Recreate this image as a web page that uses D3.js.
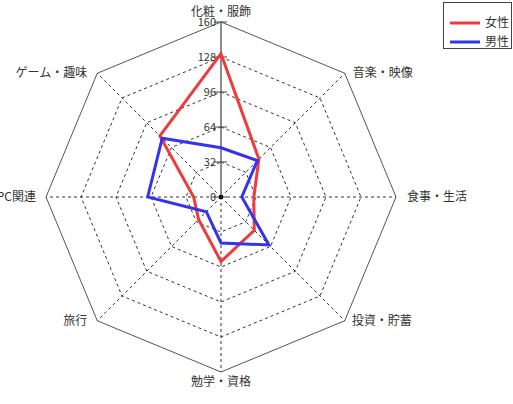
<html>
<head>
<meta charset="utf-8">
<script src="https://d3js.org/d3.v7.min.js"></script>
<style>
  body { margin: 0; background: #fff; }
  text { font-family: "Noto Sans CJK JP", sans-serif; fill: #333; }
</style>
</head>
<body>
<svg id="chart" width="513" height="404"></svg>
<script>
// data
const axes = ['化粧・服飾', '音楽・映像', '食事・生活', '投資・貯蓄', '勉学・資格', '旅行', 'PC関連', 'ゲーム・趣味'];
const female = [131, 49, 30, 43, 59, 29, 25, 79];
const male = [45, 47, 19, 62, 42, 19, 67, 76];
const ticks = [0, 32, 64, 96, 128, 160];
const seriesNames = ['女性', '男性'];
const colors = ['#ee3b3b', '#3434ee'];

const svg = d3.select('svg#chart');
const cx = 221, cy = 197, R = 175;

const r = d3.scaleLinear().domain([0, 160]).range([0, R]);
const angle = d3.scaleLinear().domain([0, axes.length]).range([0, 2 * Math.PI]);
const pt = (i, v) => [cx + r(v) * Math.sin(angle(i)), cy - r(v) * Math.cos(angle(i))];

const g = svg.append('g');

// grid rings
ticks.slice(1).forEach(t => {
  g.append('polygon')
    .attr('points', axes.map((a, i) => pt(i, t).join(',')).join(' '))
    .attr('fill', 'none')
    .attr('stroke', t === 160 ? '#555' : '#333')
    .attr('stroke-width', 1)
    .attr('stroke-dasharray', t === 160 ? null : '3,3');
});

// spokes
axes.forEach((a, i) => {
  const [x, y] = pt(i, 160);
  g.append('line')
    .attr('x1', cx).attr('y1', cy).attr('x2', x).attr('y2', y)
    .attr('stroke', i === 0 ? '#666' : '#333')
    .attr('stroke-width', i === 0 ? 1.5 : 1)
    .attr('stroke-dasharray', i === 0 ? null : '3,3');
});

// tick marks + labels on top axis
ticks.forEach(t => {
  const y = cy - r(t);
  g.append('line').attr('x1', cx - 7).attr('x2', cx + 6).attr('y1', y).attr('y2', y)
    .attr('stroke', '#444').attr('stroke-width', 1);
  g.append('text').attr('x', cx - 5).attr('y', y).attr('dy', '0.35em')
    .attr('text-anchor', 'end').attr('font-size', 11).text(t);
});
g.append('rect').attr('x', cx - 2).attr('y', cy - 2).attr('width', 4).attr('height', 4).attr('fill', '#111');

// axis labels
const labelPos = [
  { dx: 0, dy: -10, anchor: 'middle' },
  { dx: 8, dy: 0, anchor: 'start' },
  { dx: 11, dy: 0, anchor: 'start' },
  { dx: 7, dy: 0, anchor: 'start' },
  { dx: 0, dy: 10, anchor: 'middle' },
  { dx: -10, dy: 0, anchor: 'end' },
  { dx: -10, dy: 0, anchor: 'end' },
  { dx: -10, dy: 0, anchor: 'end' }
];
axes.forEach((a, i) => {
  const [x, y] = pt(i, 160);
  const p = labelPos[i];
  g.append('text')
    .attr('x', x + p.dx).attr('y', y + p.dy).attr('dy', '0.35em')
    .attr('text-anchor', p.anchor).attr('font-size', 12)
    .text(a);
});

// series
const line = d3.line().curve(d3.curveLinearClosed);
[female, male].forEach((s, k) => {
  g.append('path')
    .attr('d', line(s.map((v, i) => pt(i, v))))
    .attr('fill', 'none')
    .attr('stroke', colors[k])
    .attr('stroke-width', 3)
    .attr('stroke-linejoin', 'miter');
});

// legend
const lg = svg.append('g');
lg.append('rect').attr('x', 443.5).attr('y', 2.5).attr('width', 68).attr('height', 46)
  .attr('fill', '#fff').attr('stroke', '#444');
seriesNames.forEach((n, k) => {
  const y = 23 + k * 19;
  lg.append('line').attr('x1', 450).attr('x2', 480).attr('y1', y).attr('y2', y)
    .attr('stroke', colors[k]).attr('stroke-width', 3);
  lg.append('text').attr('x', 485).attr('y', y).attr('dy', '0.35em')
    .attr('font-size', 12).text(n);
});
</script>
</body>
</html>
